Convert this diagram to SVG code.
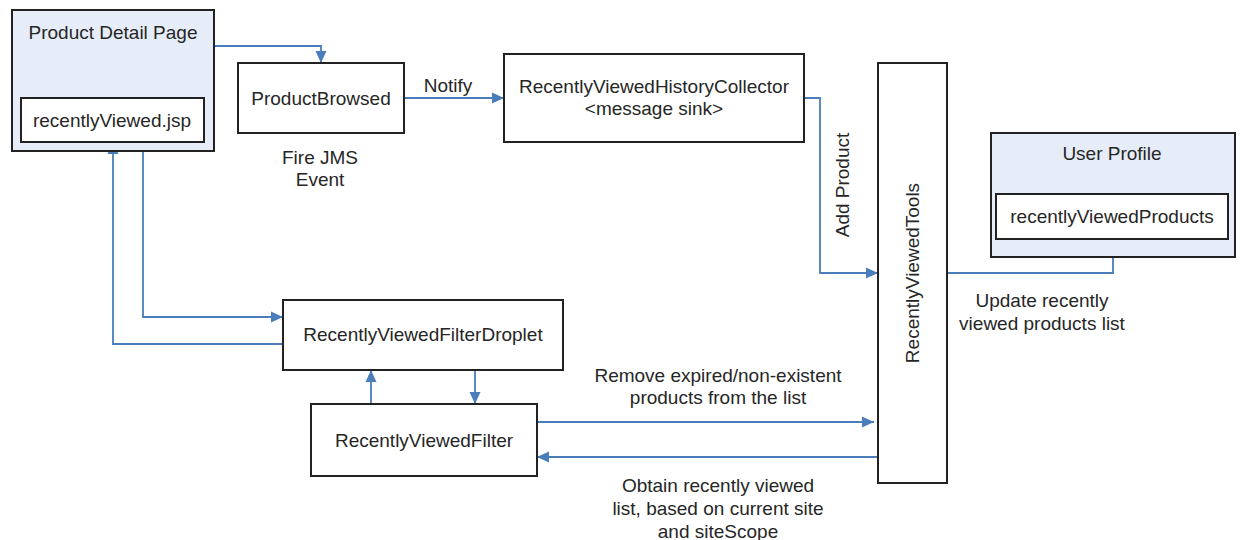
<svg xmlns="http://www.w3.org/2000/svg" width="1240" height="540" viewBox="0 0 1240 540">
<style>
.box{fill:#fff;stroke:#222;stroke-width:2}
.grp{fill:#e6edf8;stroke:#222;stroke-width:2}
.t{font-family:"Liberation Sans",Arial,sans-serif;font-size:19px;fill:#262626;text-anchor:middle}
.c{fill:none;stroke:#4a7ebb;stroke-width:1.8;marker-end:url(#ah)}
</style>
<defs>
<marker id="ah" markerUnits="userSpaceOnUse" markerWidth="13" markerHeight="12" refX="12" refY="6" orient="auto">
<path d="M0,0.5 L12,6 L0,11.5 z" fill="#4a7ebb"/>
</marker>
</defs>
<rect width="1240" height="540" fill="#fff"/>
<g id="connectors">
<path class="c" d="M214,46 H321 V63"/>
<path class="c" d="M404,98 H504"/>
<path class="c" d="M804,98 H820 V273 H878"/>
<path class="c" d="M947,273 H1113 V239"/>
<path class="c" d="M143,142 V317 H283"/>
<path class="c" d="M283,344 H113 V142"/>
<path class="c" d="M371,404 V370"/>
<path class="c" d="M475,370 V404"/>
<path class="c" d="M537,422 H874"/>
<path class="c" d="M878,457 H537"/>
</g>
<g id="product-detail-page">
<rect class="grp" x="12" y="10" width="202" height="141"/>
<text class="t" x="113" y="39">Product Detail Page</text>
</g>
<g id="recentlyViewed-jsp">
<rect class="box" x="21" y="98" width="183" height="44"/>
<text class="t" x="112" y="127">recentlyViewed.jsp</text>
</g>
<g id="product-browsed">
<rect class="box" x="238" y="63" width="166" height="70"/>
<text class="t" x="321" y="105">ProductBrowsed</text>
<text class="t" x="320" y="164">Fire JMS</text>
<text class="t" x="320" y="186">Event</text>
</g>
<g id="notify-label">
<text class="t" x="448" y="92">Notify</text>
</g>
<g id="history-collector">
<rect class="box" x="504" y="54" width="300" height="88"/>
<text class="t" x="654" y="93">RecentlyViewedHistoryCollector</text>
<text class="t" x="654" y="115">&lt;message sink&gt;</text>
</g>
<g id="add-product-label">
<text class="t" transform="translate(849,185) rotate(-90)">Add Product</text>
</g>
<g id="recently-viewed-tools">
<rect class="box" x="878" y="63" width="69" height="420"/>
<text class="t" transform="translate(919,273) rotate(-90)">RecentlyViewedTools</text>
</g>
<g id="user-profile">
<rect class="grp" x="991" y="133" width="244" height="124"/>
<text class="t" x="1112" y="160">User Profile</text>
</g>
<g id="recently-viewed-products">
<rect class="box" x="996" y="194" width="232" height="45"/>
<text class="t" x="1112" y="223">recentlyViewedProducts</text>
</g>
<g id="update-label">
<text class="t" x="1042" y="307">Update recently</text>
<text class="t" x="1042" y="330">viewed products list</text>
</g>
<g id="filter-droplet">
<rect class="box" x="283" y="300" width="280" height="70"/>
<text class="t" x="423" y="341">RecentlyViewedFilterDroplet</text>
</g>
<g id="filter">
<rect class="box" x="311" y="404" width="226" height="72"/>
<text class="t" x="424" y="447">RecentlyViewedFilter</text>
</g>
<g id="remove-label">
<text class="t" x="718" y="382">Remove expired/non-existent</text>
<text class="t" x="718" y="404">products from the list</text>
</g>
<g id="obtain-label">
<text class="t" x="718" y="492">Obtain recently viewed</text>
<text class="t" x="718" y="515">list, based on current site</text>
<text class="t" x="718" y="538">and siteScope</text>
</g>
</svg>
